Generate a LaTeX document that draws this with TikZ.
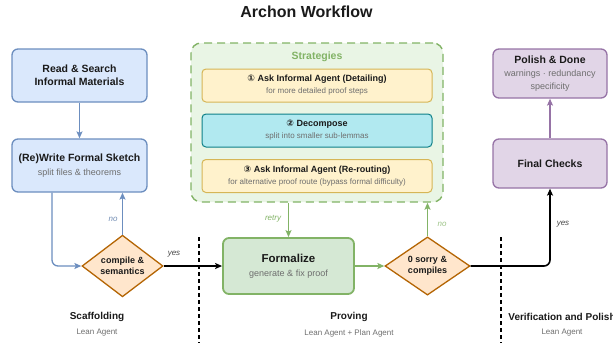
\documentclass[tikz,border=0pt]{standalone}
\usepackage{fontspec}
\setmainfont{Liberation Sans}
\newfontfamily\symfont{DejaVu Sans}
\usetikzlibrary{shapes.geometric,arrows.meta}
\definecolor{blueFill}{HTML}{DAE8FC}
\definecolor{blueLine}{HTML}{6C8EBF}
\definecolor{greenFill}{HTML}{D5E8D4}
\definecolor{greenLine}{HTML}{82B366}
\definecolor{contFill}{HTML}{E9F5E5}
\definecolor{yellowFill}{HTML}{FFF2CC}
\definecolor{yellowLine}{HTML}{D6B656}
\definecolor{cyanFill}{HTML}{B1E9F0}
\definecolor{cyanLine}{HTML}{0E8088}
\definecolor{purpFill}{HTML}{E1D5E7}
\definecolor{purpLine}{HTML}{9673A6}
\definecolor{orFill}{HTML}{FFE6CC}
\definecolor{orLine}{HTML}{B46504}
\definecolor{subGray}{HTML}{6E6E6E}
\definecolor{lblGray}{HTML}{8C8C8C}
\definecolor{txt}{HTML}{1A1A1A}
\tikzset{
  box/.style={draw, rounded corners=6pt, line width=1.3pt, align=center, inner sep=0pt, text=txt},
  bluebox/.style={box, fill=blueFill, draw=blueLine, minimum width=135pt, minimum height=53pt},
  purpbox/.style={box, fill=purpFill, draw=purpLine, minimum width=114pt, minimum height=49pt},
  stratbox/.style={box, rounded corners=4pt, line width=1pt, minimum width=230pt, minimum height=33pt},
  dia/.style={diamond, draw=orLine, fill=orFill, line width=1.3pt, inner sep=0pt, align=center, text=txt,
     font=\fontsize{9}{11}\selectfont\bfseries},
  arr/.style={line width=1.3pt, -{Stealth[length=7pt,width=6pt,inset=1.5pt]}},
  lbl/.style={font=\fontsize{8}{10}\selectfont\itshape},
  sect/.style={font=\fontsize{10}{12}\selectfont\bfseries, text=txt},
  agent/.style={font=\fontsize{8}{10}\selectfont, text=subGray},
  divider/.style={line width=1.4pt, dash pattern=on 4pt off 3pt},
}
\newcommand{\sub}[1]{{\fontsize{9}{11}\selectfont\mdseries\color{subGray}#1}}
\newcommand{\ssub}[1]{{\fontsize{8}{10}\selectfont\mdseries\color{subGray}#1}}
\begin{document}
\begin{tikzpicture}[x=1pt,y=-1pt]
\useasboundingbox (0,0) rectangle (613,343);
\node[font=\fontsize{16}{18}\selectfont\bfseries, text=txt] (title) at (306.5,12) {Archon Workflow};

% Scaffolding
\node[bluebox, font=\fontsize{10.5}{13}\selectfont\bfseries] (read) at (79.5,75.5) {Read \& Search\\Informal Materials};
\node[bluebox, font=\fontsize{10.5}{14}\selectfont\bfseries] (rewrite) at (79.5,165.5) {(Re)Write Formal Sketch\\\sub{split files \& theorems}};
\node[dia, minimum width=81pt, minimum height=48pt] (d1) at (122.5,266) {compile \&\\semantics};

% Strategies
\node[draw=greenLine, fill=contFill, line width=1.4pt, dash pattern=on 8pt off 5pt, rounded corners=10pt,
      minimum width=252pt, minimum height=159pt, inner sep=0pt] (cont) at (317,122.5) {};
\node[font=\fontsize{10.5}{12}\selectfont\bfseries, text=greenLine] (stratlbl) at (317,57) {Strategies};
\node[stratbox, fill=yellowFill, draw=yellowLine, font=\fontsize{9}{12}\selectfont\bfseries] (s1) at (317,85.5)
  {{\symfont ①} Ask Informal Agent (Detailing)\\\ssub{for more detailed proof steps}};
\node[stratbox, fill=cyanFill, draw=cyanLine, font=\fontsize{9}{12}\selectfont\bfseries] (s2) at (317,130.5)
  {{\symfont ②} Decompose\\\ssub{split into smaller sub-lemmas}};
\node[stratbox, fill=yellowFill, draw=yellowLine, font=\fontsize{9}{12}\selectfont\bfseries] (s3) at (317,176)
  {{\symfont ③} Ask Informal Agent (Re-routing)\\\ssub{for alternative proof route (bypass formal difficulty)}};

% Proving
\node[box, fill=greenFill, draw=greenLine, line width=1.8pt, minimum width=131pt, minimum height=56pt,
      font=\fontsize{11.5}{14}\selectfont\bfseries] (form) at (288.5,266) {Formalize\\\sub{generate \& fix proof}};
\node[dia, minimum width=85pt, minimum height=48pt] (d2) at (427.5,266) {0 sorry \&\\compiles};

% Verification
\node[purpbox, font=\fontsize{10.5}{13}\selectfont\bfseries] (final) at (550,163.5) {Final Checks};
\node[purpbox, font=\fontsize{10.5}{13}\selectfont\bfseries] (polish) at (550,73.5) {Polish \& Done\\\sub{warnings · redundancy}\\\sub{specificity}};

% connectors
\draw[arr, blueLine] (read) -- (rewrite);
\draw[arr, blueLine, rounded corners=6pt] ([xshift=-27.5pt]rewrite.south) |- (d1.west);
\draw[arr, blueLine] (d1.north) -- (d1.north |- rewrite.south);
\node[lbl, text=blueLine!80!gray] (no1) at (113,219) {no};
\draw[arr, black, line width=1.6pt] (d1.east) -- (form.west);
\node[lbl, text=txt!80] (yes1) at (174,254) {yes};
\draw[arr, greenLine] (form.north |- cont.south) -- (form.north);
\node[lbl, text=greenLine] (retry) at (273,219) {retry};
\draw[arr, greenLine] (form.east) -- (d2.west);
\draw[arr, greenLine] (d2.north) -- (d2.north |- cont.south);
\node[lbl, text=greenLine!80] (no2) at (442,224) {no};
\draw[arr, black, line width=1.6pt, rounded corners=6pt] (d2.east) -| (final.south);
\node[lbl, text=txt!80] (yes2) at (563,224) {yes};
\draw[arr, purpLine] (final) -- (polish);

% dividers
\coordinate (dv1a) at (199,237); \coordinate (dv1b) at (199,343);
\coordinate (dv2a) at (501,237); \coordinate (dv2b) at (501,343);
\draw[divider] (dv1a) -- (dv1b);
\draw[divider] (dv2a) -- (dv2b);

% section labels
\node[sect] (sc) at (97,317) {Scaffolding};
\node[agent] (sca) at (97,333) {Lean Agent};
\node[sect] (pr) at (349,317) {Proving};
\node[agent] (pra) at (349,333) {Lean Agent + Plan Agent};
\node[sect] (vp) at (562,317) {Verification and Polish};
\node[agent] (vpa) at (562,333) {Lean Agent};
\end{tikzpicture}
\end{document}
